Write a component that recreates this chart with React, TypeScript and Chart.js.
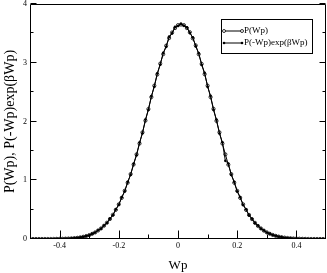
import React, { useEffect, useRef } from "react";
import { Chart, registerables } from "chart.js";

Chart.register(...registerables);

// Work value Wp (x axis)
const WP = [
  -0.5, -0.49, -0.48, -0.47, -0.46, -0.45, -0.44, -0.43, -0.42, -0.41,
  -0.4, -0.39, -0.38, -0.37, -0.36, -0.35, -0.34, -0.33, -0.32, -0.31,
  -0.3, -0.29, -0.28, -0.27, -0.26, -0.25, -0.24, -0.23, -0.22, -0.21,
  -0.2, -0.19, -0.18, -0.17, -0.16, -0.15, -0.14, -0.13, -0.12, -0.11,
  -0.1, -0.09, -0.08, -0.07, -0.06, -0.05, -0.04, -0.03, -0.02, -0.01,
  0, 0.01, 0.02, 0.03, 0.04, 0.05, 0.06, 0.07, 0.08, 0.09,
  0.1, 0.11, 0.12, 0.13, 0.14, 0.15, 0.16, 0.17, 0.18, 0.19,
  0.2, 0.21, 0.22, 0.23, 0.24, 0.25, 0.26, 0.27, 0.28, 0.29,
  0.3, 0.31, 0.32, 0.33, 0.34, 0.35, 0.36, 0.37, 0.38, 0.39,
  0.4, 0.41, 0.42, 0.43, 0.44, 0.45, 0.46, 0.47, 0.48, 0.49,
  0.5,
];

// P(Wp)
const P_WP = [
  0, 0, 0, 0, 0, 0, 0, 0, 0.001, 0.002,
  0.003, 0.004, 0.006, 0.008, 0.011, 0.015, 0.02, 0.028, 0.038, 0.05,
  0.066, 0.088, 0.112, 0.145, 0.18, 0.226, 0.278, 0.34, 0.412, 0.497,
  0.59, 0.7, 0.822, 0.958, 1.105, 1.268, 1.44, 1.625, 1.815, 2.015,
  2.212, 2.415, 2.61, 2.8, 2.985, 3.145, 3.29, 3.42, 3.515, 3.59,
  3.64, 3.65, 3.64, 3.59, 3.52, 3.415, 3.295, 3.145, 2.98, 2.805,
  2.61, 2.415, 2.215, 2.01, 1.815, 1.625, 1.44, 1.265, 1.105, 0.958,
  0.82, 0.7, 0.59, 0.495, 0.41, 0.338, 0.276, 0.223, 0.18, 0.143,
  0.113, 0.089, 0.069, 0.053, 0.041, 0.031, 0.023, 0.017, 0.013, 0.009,
  0.007, 0.005, 0.003, 0.002, 0.001, 0, 0, 0, 0, 0,
  0,
];

// P(-Wp)exp(βWp)
const P_REV = [
  0, 0, 0, 0, 0, 0, 0, 0, 0.001, 0.002,
  0.003, 0.004, 0.006, 0.009, 0.012, 0.016, 0.021, 0.029, 0.037, 0.052,
  0.064, 0.09, 0.11, 0.148, 0.176, 0.23, 0.272, 0.346, 0.405, 0.505,
  0.582, 0.712, 0.81, 0.972, 1.09, 1.282, 1.425, 1.642, 1.798, 2.035,
  2.195, 2.432, 2.592, 2.822, 2.965, 3.17, 3.27, 3.445, 3.5, 3.61,
  3.625, 3.665, 3.63, 3.605, 3.505, 3.432, 3.278, 3.165, 2.962, 2.83,
  2.59, 2.438, 2.195, 2.032, 1.795, 1.645, 1.33, 1.285, 1.09, 0.975,
  0.808, 0.715, 0.58, 0.505, 0.402, 0.345, 0.27, 0.228, 0.176, 0.146,
  0.11, 0.091, 0.067, 0.055, 0.04, 0.032, 0.022, 0.018, 0.012, 0.009,
  0.006, 0.005, 0.003, 0.002, 0.001, 0, 0, 0, 0, 0,
  0,
];

const SERIES_LABELS = ["P(Wp)", "P(-Wp)exp(βWp)"];
const X_MAJOR = [-0.4, -0.2, 0, 0.2, 0.4];
const X_MINOR = [-0.3, -0.1, 0.1, 0.3];
const Y_MAJOR = [0, 1, 2, 3, 4];
const Y_MINOR = [0.5, 1.5, 2.5, 3.5];
const X_TITLE = "Wp";
const Y_TITLE = "P(Wp), P(-Wp)exp(βWp)";

const FONT = "'Liberation Serif', 'DejaVu Serif', serif";

function fmt(v: number) {
  return String(Number(v.toFixed(1)));
}

const frameAndTicks = {
  id: "frameAndTicks",
  afterDatasetsDraw(chart: any) {
    const { ctx, chartArea } = chart;
    const xs = chart.scales.x;
    const ys = chart.scales.y;
    const { left, right, top, bottom } = chartArea;
    ctx.save();
    ctx.strokeStyle = "#000";
    ctx.lineWidth = 1;
    ctx.beginPath();
    ctx.rect(Math.round(left) + 0.5, Math.round(top) + 0.5, Math.round(right - left) - 1, Math.round(bottom - top) - 1);
    ctx.stroke();
    ctx.beginPath();
    const b = Math.round(bottom) - 0.5;
    const l = Math.round(left) + 0.5;
    const r = Math.round(right) - 0.5;
    X_MAJOR.forEach((v) => {
      const px = Math.round(xs.getPixelForValue(v)) + 0.5;
      ctx.moveTo(px, b);
      ctx.lineTo(px, b - 8);
    });
    X_MINOR.forEach((v) => {
      const px = Math.round(xs.getPixelForValue(v)) + 0.5;
      ctx.moveTo(px, b);
      ctx.lineTo(px, b - 4);
    });
    Y_MAJOR.forEach((v) => {
      const py = Math.round(ys.getPixelForValue(v)) - 0.5;
      ctx.moveTo(l, py);
      ctx.lineTo(l + 6, py);
      ctx.moveTo(r, py);
      ctx.lineTo(r - 6, py);
    });
    Y_MINOR.forEach((v) => {
      const py = Math.round(ys.getPixelForValue(v)) - 0.5;
      ctx.moveTo(l, py);
      ctx.lineTo(l + 3, py);
      ctx.moveTo(r, py);
      ctx.lineTo(r - 3, py);
    });
    ctx.stroke();

    // tick labels
    ctx.fillStyle = "#000";
    ctx.font = `8px ${FONT}`;
    ctx.textAlign = "center";
    ctx.textBaseline = "middle";
    X_MAJOR.forEach((v) => {
      ctx.fillText(fmt(v), xs.getPixelForValue(v), bottom + 7);
    });
    ctx.textAlign = "right";
    Y_MAJOR.forEach((v) => {
      ctx.fillText(fmt(v), left - 3, ys.getPixelForValue(v));
    });
    ctx.restore();
  },
};

const boxLegend = {
  id: "boxLegend",
  afterDraw(chart: any) {
    const { ctx } = chart;
    const ds = chart.data.datasets;
    const bx = 221.5, by = 19.5, bw = 91, bh = 34;
    ctx.save();
    ctx.fillStyle = "#fff";
    ctx.fillRect(bx, by, bw, bh);
    ctx.strokeStyle = "#000";
    ctx.lineWidth = 1;
    ctx.strokeRect(bx, by, bw, bh);
    ds.forEach((d: any, i: number) => {
      const y = 31 + i * 12;
      ctx.strokeStyle = "#000";
      ctx.lineWidth = 1;
      ctx.beginPath();
      ctx.moveTo(224, y);
      ctx.lineTo(242, y);
      ctx.stroke();
      [224, 242].forEach((mx) => {
        ctx.beginPath();
        ctx.arc(mx, y, i === 0 ? 1.5 : 1.3, 0, Math.PI * 2);
        if (i === 0) {
          ctx.fillStyle = "#fff";
          ctx.fill();
          ctx.lineWidth = 0.8;
          ctx.stroke();
        } else {
          ctx.fillStyle = "#000";
          ctx.fill();
        }
      });
      ctx.fillStyle = "#000";
      ctx.font = `9px ${FONT}`;
      ctx.textBaseline = "middle";
      ctx.textAlign = "left";
      ctx.fillText(d.label, 244, y);
    });
    ctx.restore();
  },
};

export default function App() {
  const ref = useRef<HTMLCanvasElement | null>(null);
  useEffect(() => {
    if (!ref.current) return;
    const chart = new Chart(ref.current, {
      type: "line",
      data: {
        datasets: [
          {
            label: SERIES_LABELS[0],
            data: WP.map((x, i) => ({ x, y: P_WP[i] })),
            borderColor: "#000",
            borderWidth: 1,
            pointStyle: "circle",
            pointRadius: 1.6,
            pointBorderWidth: 0.8,
            pointBorderColor: "#000",
            pointBackgroundColor: "rgba(255,255,255,0)",
            tension: 0,
          },
          {
            label: SERIES_LABELS[1],
            data: WP.map((x, i) => ({ x, y: P_REV[i] })),
            borderColor: "#000",
            borderWidth: 1,
            pointStyle: "circle",
            pointRadius: 1.3,
            pointBorderWidth: 0,
            pointBackgroundColor: "#000",
            tension: 0,
          },
        ],
      },
      options: {
        animation: false,
        responsive: false,
        devicePixelRatio: 1,
        layout: { autoPadding: false, padding: { top: 4, right: 1, left: 0, bottom: 0 } },
        plugins: {
          legend: { display: false },
          tooltip: { enabled: false },
        },
        scales: {
          x: {
            type: "linear",
            min: -0.5,
            max: 0.5,
            afterFit: (s: any) => {
              s.height = 34;
              s.paddingLeft = 0;
              s.paddingRight = 0;
            },
            grid: { display: false },
            border: { display: false },
            ticks: { display: false },
            title: {
              display: true,
              text: X_TITLE,
              color: "#000",
              font: { family: FONT, size: 13 },
              padding: { top: 0, bottom: 0 },
            },
          },
          y: {
            type: "linear",
            min: 0,
            max: 4,
            afterFit: (s: any) => {
              s.width = 30;
              s.paddingTop = 0;
              s.paddingBottom = 0;
            },
            grid: { display: false },
            border: { display: false },
            ticks: { display: false },
            title: {
              display: true,
              text: Y_TITLE,
              color: "#000",
              font: { family: FONT, size: 14 },
              padding: { top: 1.5, bottom: 0 },
            },
          },
        },
      },
      plugins: [frameAndTicks, boxLegend],
    } as any);
    return () => chart.destroy();
  }, []);
  return (
    <div style={{ position: "fixed", left: 0, top: 0, width: 327, height: 273, background: "#fff" }}>
      <canvas ref={ref} width={327} height={273} style={{ display: "block", width: 327, height: 273 }} />
    </div>
  );
}
